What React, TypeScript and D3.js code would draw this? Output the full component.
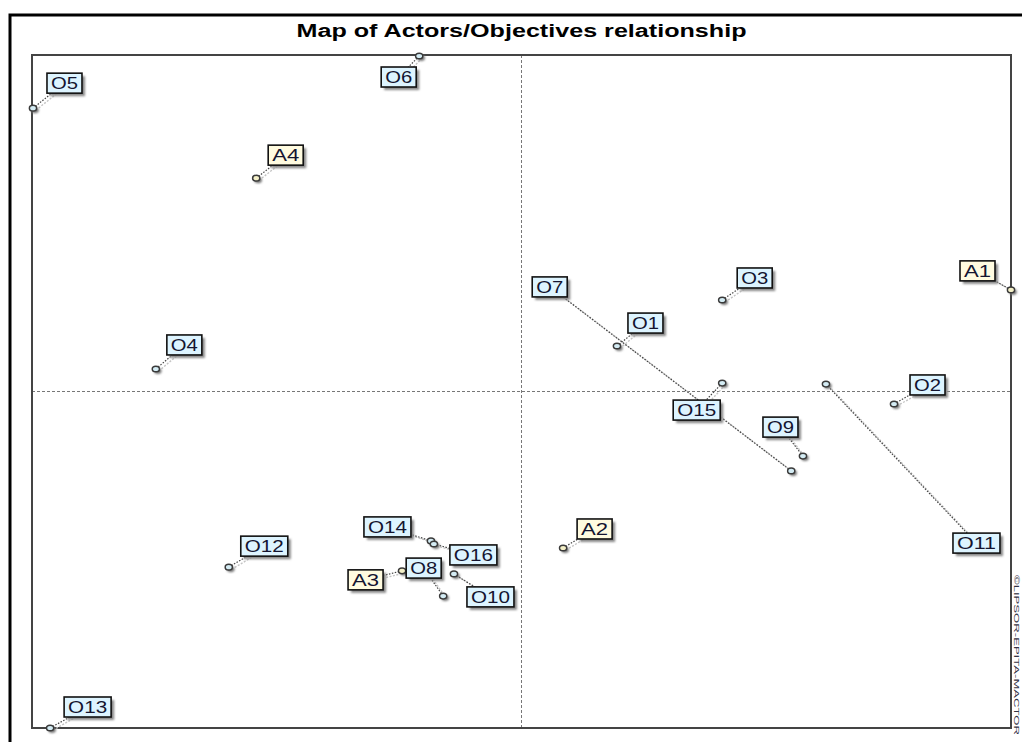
import React from "react";
import * as d3 from "d3";

// MACTOR map: actors (A) and objectives (O) positions on the plane
const ids = ["O5", "O6", "A4", "O4", "O7", "O1", "O3", "A1", "O2", "O9", "O15", "O11", "O12", "O14", "O16", "A3", "O8", "O10", "A2", "O13"];
const xVals = [-0.998, -0.209, -0.542, -0.747, 0.551, 0.195, 0.41, 1.0, 0.761, 0.575, 0.41, 0.622, -0.598, -0.185, -0.179, -0.244, -0.16, -0.138, 0.085, -0.963];
const yVals = [0.842, 0.997, 0.634, 0.067, -0.236, 0.135, 0.272, 0.302, -0.037, -0.192, 0.025, 0.022, -0.522, -0.444, -0.453, -0.533, -0.608, -0.542, -0.465, -1.0];

const title = "Map of Actors/Objectives relationship";
const watermark = "©LIPSOR-EPITA-MACTOR";

// label box placement relative to its point (pixels)
const labelOffset: Record<string, [number, number]> = {
  O5: [14, -35], O6: [-38, 11], A4: [12, -33], O4: [11, -34], O7: [-259, -194],
  O1: [11, -33], O3: [15, -32], A1: [-51, -29], O2: [16, -29], O9: [-40, -39],
  O15: [-49, 17], O11: [127, 149], O12: [12, -31], O14: [-67, -24], O16: [16, 1],
  A3: [-54, -1], O8: [-37, -38], O10: [13, 13], A2: [14, -29], O13: [14, -31],
};

const W = 1022;
const H = 742;
const plot = { left: 32, top: 55, right: 1011, bottom: 728 };

const App = () => {
  const x = d3.scaleLinear().domain([-1, 1]).range([plot.left, plot.right]);
  const y = d3.scaleLinear().domain([-1, 1]).range([plot.bottom, plot.top]);

  const points = ids.map((id, i) => {
    const px = x(xVals[i]);
    const py = y(yVals[i]);
    const [dx, dy] = labelOffset[id];
    const bw = id.length === 2 ? 35 : 47;
    const bh = 20;
    return { id, px, py, bx: px + dx, by: py + dy, bw, bh, actor: id[0] === "A" };
  });

  const font = "'Liberation Sans', Arial, sans-serif";

  return (
    <svg width={W} height={H} style={{ position: "absolute", left: 0, top: 0, background: "#fff" }}>
      <defs>
        <filter id="blur" x="-20%" y="-20%" width="140%" height="140%">
          <feGaussianBlur stdDeviation="1.2" />
        </filter>
      </defs>
      <rect x={0} y={0} width={W} height={H} fill="#fff" />
      {/* outer frame */}
      <rect x={10} y={15} width={1100} height={800} fill="none" stroke="#000" strokeWidth={3} />
      <text
        x={x(0)}
        y={37}
        textAnchor="middle"
        fontFamily={font}
        fontWeight="bold"
        fontSize={18}
        textLength={450}
        lengthAdjust="spacingAndGlyphs"
        fill="#000"
      >
        {title}
      </text>

      {/* zero axes */}
      <line x1={x(0)} x2={x(0)} y1={plot.top} y2={plot.bottom} stroke="#777" strokeDasharray="3,2" />
      <line x1={plot.left} x2={plot.right} y1={y(0)} y2={y(0)} stroke="#777" strokeDasharray="3,2" />

      {/* plot frame */}
      <rect
        x={plot.left}
        y={plot.top}
        width={plot.right - plot.left}
        height={plot.bottom - plot.top}
        fill="none"
        stroke="#444"
        strokeWidth={2}
      />

      {/* connectors */}
      {points.map((p) => (
        <g key={"c" + p.id}>
          <line
            x1={p.px + 3}
            y1={p.py + 2}
            x2={p.bx + p.bw / 2 + 3}
            y2={p.by + p.bh / 2 + 2}
            stroke="#c4c4c4"
            strokeWidth={1.4}
            strokeDasharray="2,1.5"
          />
          <line
            x1={p.px}
            y1={p.py}
            x2={p.bx + p.bw / 2}
            y2={p.by + p.bh / 2}
            stroke="#444"
            strokeWidth={1.2}
            strokeDasharray="1.5,1.5"
          />
        </g>
      ))}

      {/* markers */}
      {points.map((p) => (
        <g key={"m" + p.id}>
          <ellipse cx={p.px + 2} cy={p.py + 2} rx={3.8} ry={3} fill="#777" filter="url(#blur)" />
          <ellipse
            cx={p.px}
            cy={p.py}
            rx={3.6}
            ry={2.8}
            fill={p.actor ? "#f4f0c8" : "#d4ecf4"}
            stroke="#3a3a3a"
            strokeWidth={1.5}
          />
        </g>
      ))}

      {/* labels */}
      {points.map((p) => (
        <g key={"l" + p.id}>
          <rect x={p.bx + 3} y={p.by + 3} width={p.bw} height={p.bh} fill="#888" filter="url(#blur)" />
          <rect
            x={p.bx}
            y={p.by}
            width={p.bw}
            height={p.bh}
            fill={p.actor ? "#fffbe0" : "#ddf4ff"}
            stroke="#111"
            strokeWidth={1.6}
          />
          <text
            x={p.bx + p.bw / 2}
            y={p.by + 16}
            textAnchor="middle"
            fontFamily={font}
            fontSize={16.5}
            textLength={p.bw - 8}
            lengthAdjust="spacingAndGlyphs"
            fill="#141430"
          >
            {p.id}
          </text>
        </g>
      ))}

      {/* watermark */}
      <text
        transform={`translate(1014,575) rotate(90)`}
        fontFamily={font}
        fontSize={8}
        textLength={160}
        lengthAdjust="spacingAndGlyphs"
        fill="#334"
      >
        {watermark}
      </text>
    </svg>
  );
};

export default App;
